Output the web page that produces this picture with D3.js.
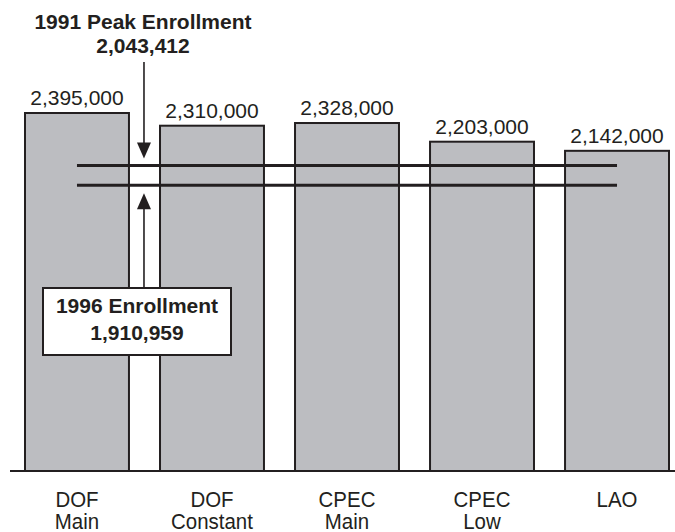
<!DOCTYPE html>
<html>
<head>
<meta charset="utf-8">
<script src="https://cdn.jsdelivr.net/npm/d3@7"></script>
<style>
  body { margin: 0; background: #fff; }
  svg { display: block; font-family: "Liberation Sans", Arial, Helvetica, sans-serif; }
</style>
</head>
<body>
<div id="chart"></div>
<script>
// projections of enrollment
const categories = ['DOF Main', 'DOF Constant', 'CPEC Main', 'CPEC Low', 'LAO'];
const catLines = [['DOF', 'Main'], ['DOF', 'Constant'], ['CPEC', 'Main'], ['CPEC', 'Low'], ['LAO']];
const values = [2395000, 2310000, 2328000, 2203000, 2142000];

// reference lines
const peak1991 = 2043412;
const enroll1996 = 1910959;

const width = 675, height = 532;
const baseY = 471;

const svg = d3.select('#chart')
    .append('svg')
        .attr('width', width)
        .attr('height', height);

const x = d3.scaleBand()
    .domain(categories)
    .range([25, 669])
    .paddingInner(0.23)
    .paddingOuter(0);

const y = d3.scaleLinear()
    .domain([0, 2395000])
    .range([baseY, 113]);

// bars
svg.selectAll('rect.bar')
    .data(values)
    .enter()
    .append('rect')
    .attr('class', 'bar')
    .attr('x', (d, i) => x(categories[i]))
    .attr('y', d => y(d))
    .attr('width', x.bandwidth())
    .attr('height', d => y(0) - y(d))
    .attr('fill', '#bcbdc1')
    .attr('stroke', '#231f20')
    .attr('stroke-width', 2);

// value labels
svg.selectAll('text.value')
    .data(values)
    .enter()
    .append('text')
    .attr('class', 'value')
    .attr('x', (d, i) => x(categories[i]) + x.bandwidth() / 2)
    .attr('y', d => y(d) - 8)
    .attr('text-anchor', 'middle')
    .style('font-size', '21px')
    .attr('fill', '#231f20')
    .text(d => d3.format(',')(d));

// baseline axis
svg.append('line')
    .attr('x1', 10).attr('x2', width)
    .attr('y1', y(0)).attr('y2', y(0))
    .attr('stroke', '#231f20')
    .attr('stroke-width', 2);

// category labels (slightly condensed)
const cat = svg.selectAll('text.cat')
    .data(catLines)
    .enter()
    .append('text')
    .attr('class', 'cat')
    .attr('text-anchor', 'middle')
    .attr('transform', (d, i) => `translate(${x(categories[i]) + x.bandwidth() / 2},0) scale(0.93,1)`)
    .style('font-size', '22px')
    .attr('fill', '#231f20');
cat.selectAll('tspan')
    .data(d => d)
    .enter()
    .append('tspan')
    .attr('x', 0)
    .attr('y', (d, j) => 507 + j * 22)
    .text(d => d);

// horizontal reference lines
const lx1 = x(categories[0]) + x.bandwidth() / 2;
const lx2 = x(categories[categories.length - 1]) + x.bandwidth() / 2;
[peak1991, enroll1996].forEach(v => {
    svg.append('line')
        .attr('x1', lx1).attr('x2', lx2)
        .attr('y1', y(v)).attr('y2', y(v))
        .attr('stroke', '#231f20')
        .attr('stroke-width', 3);
});

// arrows in the gap between first two bars
const ax = (x(categories[0]) + x.bandwidth() + x(categories[1])) / 2 - 0.5;

const topTip = y(peak1991) - 7;
svg.append('line')
    .attr('x1', ax).attr('x2', ax)
    .attr('y1', 62).attr('y2', topTip - 12)
    .attr('stroke', '#231f20')
    .attr('stroke-width', 1.6);
svg.append('path')
    .attr('d', `M${ax - 7},${topTip - 16} L${ax + 7},${topTip - 16} L${ax},${topTip} Z`)
    .attr('fill', '#231f20');

const botTip = y(enroll1996) + 8;
svg.append('line')
    .attr('x1', ax).attr('x2', ax)
    .attr('y1', botTip + 12).attr('y2', 288)
    .attr('stroke', '#231f20')
    .attr('stroke-width', 1.6);
svg.append('path')
    .attr('d', `M${ax - 7},${botTip + 16} L${ax + 7},${botTip + 16} L${ax},${botTip} Z`)
    .attr('fill', '#231f20');

// top annotation
svg.append('text')
    .attr('x', 143).attr('y', 29)
    .attr('text-anchor', 'middle')
    .style('font-size', '21px')
    .style('font-weight', 'bold')
    .attr('fill', '#231f20')
    .text('1991 Peak Enrollment');
svg.append('text')
    .attr('x', 143).attr('y', 53)
    .attr('text-anchor', 'middle')
    .style('font-size', '21px')
    .style('font-weight', 'bold')
    .attr('fill', '#231f20')
    .text(d3.format(',')(peak1991));

// boxed annotation
svg.append('rect')
    .attr('x', 43).attr('y', 288)
    .attr('width', 188).attr('height', 67)
    .attr('fill', '#fff')
    .attr('stroke', '#231f20')
    .attr('stroke-width', 2);
svg.append('text')
    .attr('x', 137).attr('y', 313)
    .attr('text-anchor', 'middle')
    .style('font-size', '21px')
    .style('font-weight', 'bold')
    .attr('fill', '#231f20')
    .text('1996 Enrollment');
svg.append('text')
    .attr('x', 137).attr('y', 340)
    .attr('text-anchor', 'middle')
    .style('font-size', '21px')
    .style('font-weight', 'bold')
    .attr('fill', '#231f20')
    .text(d3.format(',')(enroll1996));
</script>
</body>
</html>
